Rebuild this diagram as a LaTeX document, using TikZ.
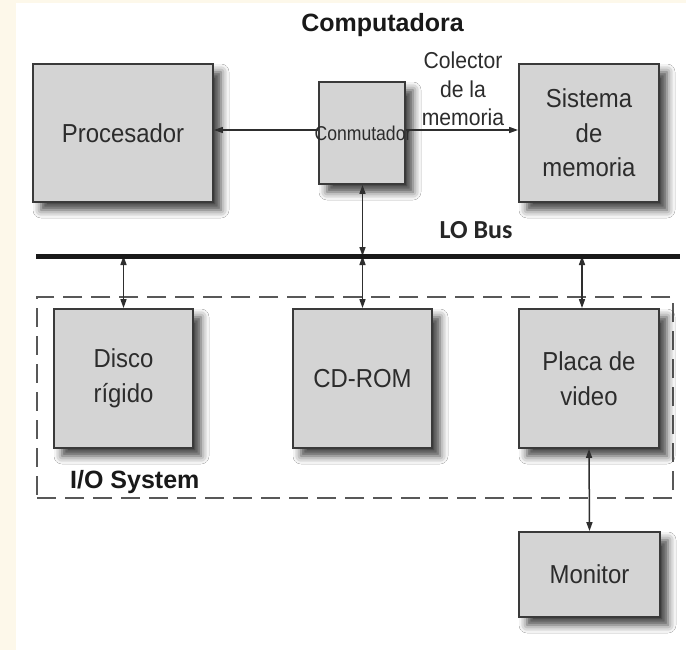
\documentclass[tikz,border=0pt]{standalone}
\usepackage{fontspec}
\setmainfont{Liberation Sans}
\newfontfamily\labelfont{Liberation Sans}[FakeStretch=0.92]
\newfontfamily\smallfont{Liberation Sans}[FakeStretch=0.88]
\newfontfamily\busfont{Carlito}
\usetikzlibrary{arrows.meta,shadows.blur}

\definecolor{cream}{HTML}{FDF8EA}
\definecolor{boxfill}{HTML}{D4D4D4}
\definecolor{boxline}{HTML}{3A3A3A}
\definecolor{txt}{HTML}{2C2C2C}
\definecolor{linkc}{HTML}{2E2E2E}
\definecolor{dashc}{HTML}{585858}

\begin{document}
\begin{tikzpicture}[x=1pt,y=-1pt,
  unit/.style={draw=boxline,line width=1.8pt,fill=boxfill,inner sep=0pt,
    align=center,text=txt,font=\labelfont\fontsize{26}{34.5}\selectfont,
    blur shadow={shadow xshift=8pt,shadow yshift=-8pt,
      shadow blur radius=8pt,shadow opacity=75}},
  link/.style={draw=linkc,line width=1.5pt},
  onehead/.style={link,arrows={-Triangle[length=9pt,width=6pt]}},
  twohead/.style={link,arrows={Triangle[length=9pt,width=6pt]-Triangle[length=9pt,width=6pt]}},
  heading/.style={font=\bfseries\fontsize{25}{30}\selectfont,text=black!90,inner sep=0pt}]

% page: cream strip on the left and top, white sheet
\useasboundingbox (0,0) rectangle (686,650);
\fill[cream] (0,0) rectangle (686,650);
\fill[white] (16,3) rectangle (686,650);

% I/O system frame
\node[draw=dashc,line width=2pt,dash pattern=on 19pt off 9pt,
  minimum width=636pt,minimum height=201pt,inner sep=0pt] (io) at (355,397.5) {};

% computer blocks
\node[unit,minimum width=180pt,minimum height=138pt] (proc) at (123,133) {Procesador};
\node[unit,minimum width=86pt,minimum height=102pt] (conm) at (362,133) {};
\node[text=txt,inner sep=0pt,font=\smallfont\fontsize{20}{24}\selectfont]
  (conmtext) at (363,133) {Conmutador};
\node[unit,minimum width=140pt,minimum height=138pt] (mem) at (589,133) {Sistema\\de\\memoria};

% I/O blocks
\node[unit,minimum width=139pt,minimum height=139pt] (disco) at (123.5,378.5) {Disco\\rígido};
\node[unit,minimum width=139pt,minimum height=139pt] (cdrom) at (362.5,378.5) {CD-ROM};
\node[unit,minimum width=140pt,minimum height=139pt] (placa) at (589,378.5) {Placa de\\video};
\node[unit,minimum width=141pt,minimum height=85pt] (monitor) at (589.5,574.5) {Monitor};

% labels
\node[heading,anchor=base] (title) at (382.5,32) {Computadora};
\node[heading,anchor=base west] (iolabel) at (70,488) {I/O System};
\node[inner sep=0pt,font=\busfont\bfseries\fontsize{26}{30}\selectfont,text=black!85,anchor=base]
  (buslabel) at (476,238) {LO Bus};
\node[inner sep=0pt,align=center,text=txt,font=\labelfont\fontsize{23}{28.5}\selectfont]
  (colector) at (463,89) {Colector\\de la\\memoria};

% bus taps
\coordinate (busL) at (36,256);
\coordinate (busR) at (680,256);
\coordinate (b1) at (123.5,256);
\coordinate (b2) at (362.5,256);
\coordinate (b3) at (582,256);

% connectors
\draw[onehead] ([yshift=3pt]conm.west) -- ([yshift=3pt]proc.east);
\draw[onehead] ([yshift=3pt]conm.east) -- ([yshift=3pt]mem.west);
\draw[twohead] ([xshift=0.5pt]conm.south) -- (b2);
\draw[twohead] (b2) -- (cdrom.north);
\draw[twohead] (b1) -- (disco.north);
\draw[twohead] (b3) -- ([xshift=-7pt]placa.north);
\draw[twohead] (placa.south) -- (monitor.north);

% LO bus
\draw[line width=5pt,black!90] (busL) -- (busR);
\end{tikzpicture}
\end{document}
